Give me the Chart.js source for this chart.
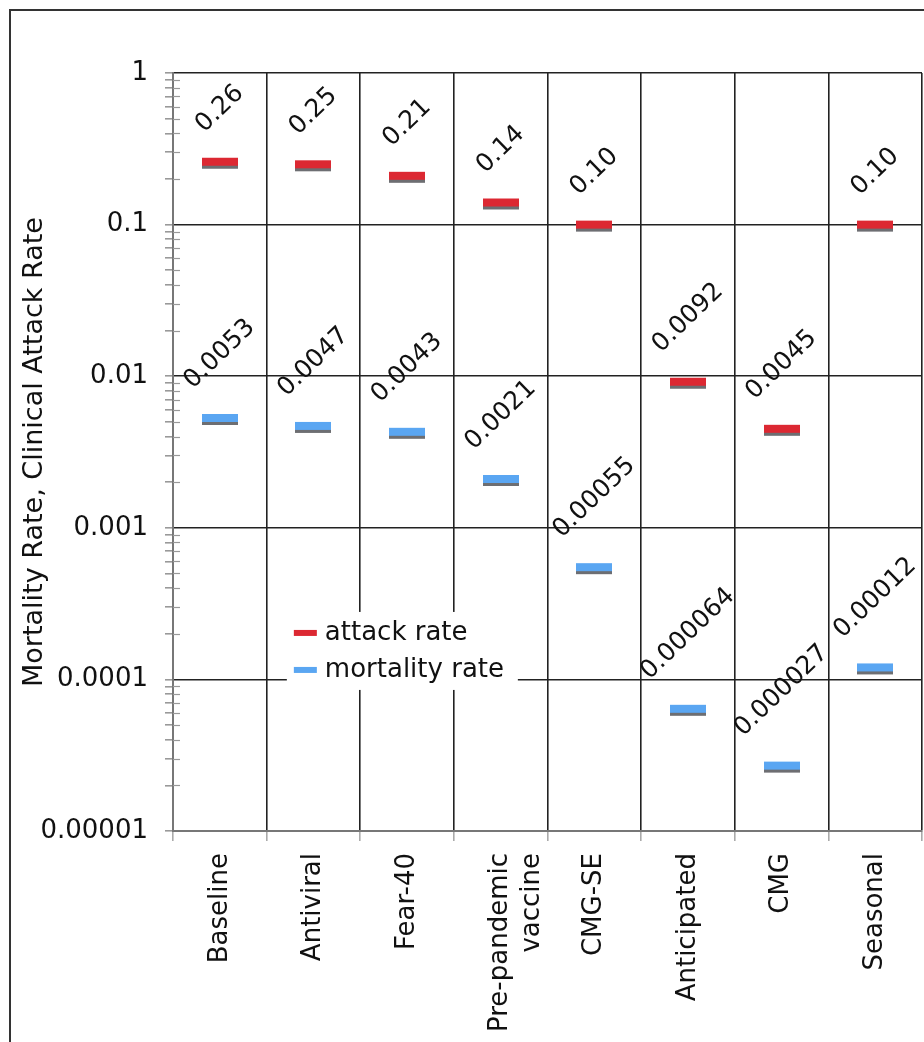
<!DOCTYPE html>
<html><head><meta charset="utf-8">
<script src="https://cdn.jsdelivr.net/npm/chart.js@4.4.1/dist/chart.umd.min.js"></script>
<style>html,body{margin:0;padding:0;background:#fff;overflow:hidden}canvas{display:block}</style>
</head><body>
<canvas id="c" width="924" height="1042"></canvas>
<script>
// ---- data ----
const categories = ['Baseline', 'Antiviral', 'Fear-40', ['Pre-pandemic', 'vaccine'], 'CMG-SE', 'Anticipated', 'CMG', 'Seasonal'];
const attackRate = [0.26, 0.25, 0.21, 0.14, 0.10, 0.0092, 0.0045, 0.10];
const mortalityRate = [0.0053, 0.0047, 0.0043, 0.0021, 0.00055, 0.000064, 0.000027, 0.00012];
const seriesNames = ['attack rate', 'mortality rate'];
const seriesColors = ['#dc2832', '#5aa6f2'];
const yTickValues = [0.00001, 0.0001, 0.001, 0.01, 0.1, 1];
const yTickLabels = ['0.00001', '0.0001', '0.001', '0.01', '0.1', '1'];
const yAxisTitle = 'Mortality Rate, Clinical Attack Rate';

// ---- styling ----
const FONT = '"DejaVu Sans", Verdana, sans-serif';
const TEXT = '#111';

function majorIndex(v) {
  return yTickValues.findIndex(t => Math.abs(t - v) / t < 1e-6);
}
// log-axis minor ticks (2..9 between each decade)
const allYTicks = [];
yTickValues.forEach((t, i) => {
  allYTicks.push(t);
  if (i < yTickValues.length - 1) for (let m = 2; m <= 9; m++) allYTicks.push(t * m);
});

function makeMarker(color) {
  const c = document.createElement('canvas');
  c.width = 36; c.height = 18;
  const g = c.getContext('2d');
  g.fillStyle = '#6d6e72';
  g.fillRect(0, 11, 36, 5);
  g.fillStyle = color;
  g.fillRect(0, 5, 36, 8);
  return c;
}

const framePlugin = {
  id: 'frame',
  beforeDraw(chart) {
    const ctx = chart.ctx;
    ctx.save();
    ctx.fillStyle = '#fff';
    ctx.fillRect(0, 0, chart.width, chart.height);
    ctx.strokeStyle = '#333';
    ctx.lineWidth = 2;
    ctx.strokeRect(10, 10, chart.width + 20, chart.height + 20);
    ctx.restore();
  }
};

const innerTickPlugin = {
  id: 'innerTicks',
  afterDraw(chart) {
    const s = chart.scales.y, ctx = chart.ctx;
    ctx.save();
    ctx.strokeStyle = '#999';
    ctx.lineWidth = 1.2;
    s.ticks.forEach(t => {
      if (majorIndex(t.value) >= 0) return;
      const y = Math.round(s.getPixelForValue(t.value)) + 0.5;
      ctx.beginPath();
      ctx.moveTo(s.right, y);
      ctx.lineTo(s.right + 7, y);
      ctx.stroke();
    });
    ctx.restore();
  }
};

const valueLabelPlugin = {
  id: 'valueLabels',
  afterDatasetsDraw(chart) {
    const ctx = chart.ctx;
    const th = 44 * Math.PI / 180;
    ctx.save();
    ctx.font = '25px ' + FONT;
    ctx.fillStyle = TEXT;
    ctx.textAlign = 'center';
    ctx.textBaseline = 'middle';
    chart.data.datasets.forEach((ds, di) => {
      chart.getDatasetMeta(di).data.forEach((pt, i) => {
        const text = Number(ds.data[i]).toPrecision(2);
        const w = ctx.measureText(text).width;
        const h = 18;
        const bh = w * Math.sin(th) + h * Math.cos(th);
        const cy = pt.y - 27 - bh / 2;
        ctx.save();
        ctx.translate(pt.x, cy);
        ctx.rotate(-th);
        ctx.fillText(text, 0, 0);
        ctx.restore();
      });
    });
    ctx.restore();
  }
};

const legendPlugin = {
  id: 'insideLegend',
  afterDraw(chart) {
    const a = chart.chartArea, ctx = chart.ctx;
    const bx = a.left + 0.152 * (a.right - a.left);
    const by = a.top + 0.711 * (a.bottom - a.top);
    const bw = 231, bh = 78;
    ctx.save();
    ctx.fillStyle = '#fff';
    ctx.fillRect(bx, by, bw, bh);
    ctx.font = '26px ' + FONT;
    ctx.textBaseline = 'middle';
    chart.data.datasets.forEach((ds, i) => {
      const cy = by + 21 + i * 37;
      ctx.fillStyle = ds.legendColor;
      ctx.fillRect(bx + 7, cy - 3, 23, 6);
      ctx.fillStyle = TEXT;
      ctx.fillText(ds.label, bx + 38, cy);
    });
    ctx.restore();
  }
};

new Chart(document.getElementById('c'), {
  type: 'line',
  data: {
    labels: categories,
    datasets: [
      { label: seriesNames[0], data: attackRate, legendColor: seriesColors[0], showLine: false,
        pointStyle: makeMarker(seriesColors[0]), pointRadius: 18, borderColor: seriesColors[0], backgroundColor: seriesColors[0] },
      { label: seriesNames[1], data: mortalityRate, legendColor: seriesColors[1], showLine: false,
        pointStyle: makeMarker(seriesColors[1]), pointRadius: 18, borderColor: seriesColors[1], backgroundColor: seriesColors[1] }
    ]
  },
  options: {
    responsive: false,
    animation: false,
    devicePixelRatio: 1,
    layout: { autoPadding: false, padding: { top: 73, right: 2, left: 0, bottom: 0 } },
    plugins: { legend: { display: false }, tooltip: { enabled: false } },
    scales: {
      x: {
        type: 'category',
        offset: true,
        grid: { offset: true, color: '#222', lineWidth: 1.6, tickLength: 10, tickColor: '#aaa' },
        border: { color: '#777', width: 2 },
        ticks: { minRotation: 90, maxRotation: 90, autoSkip: false, padding: 12, color: TEXT, font: { family: FONT, size: 26 } },
        afterFit: s => { s.height = 211; s.paddingLeft = 0; s.paddingRight = 0; }
      },
      y: {
        type: 'logarithmic',
        min: 0.00001,
        max: 1,
        afterBuildTicks: s => { s.ticks = allYTicks.map(v => ({ value: v })); },
        afterFit: s => { s.width = 173; s.paddingTop = 0; s.paddingBottom = 0; },
        ticks: {
          autoSkip: false, padding: 17, color: TEXT, font: { family: FONT, size: 26 },
          callback: v => { const i = majorIndex(v); return i >= 0 ? yTickLabels[i] : ''; }
        },
        grid: {
          color: c => (c.tick && majorIndex(c.tick.value) >= 0) ? '#222' : 'rgba(0,0,0,0)',
          lineWidth: 1.6, tickLength: 8, tickColor: '#999'
        },
        border: { color: '#777', width: 2 },
        title: { display: true, text: yAxisTitle, color: TEXT, font: { family: FONT, size: 27 }, padding: { top: 19, bottom: 0 } }
      }
    }
  },
  plugins: [framePlugin, innerTickPlugin, valueLabelPlugin, legendPlugin]
});
</script>
</body></html>
